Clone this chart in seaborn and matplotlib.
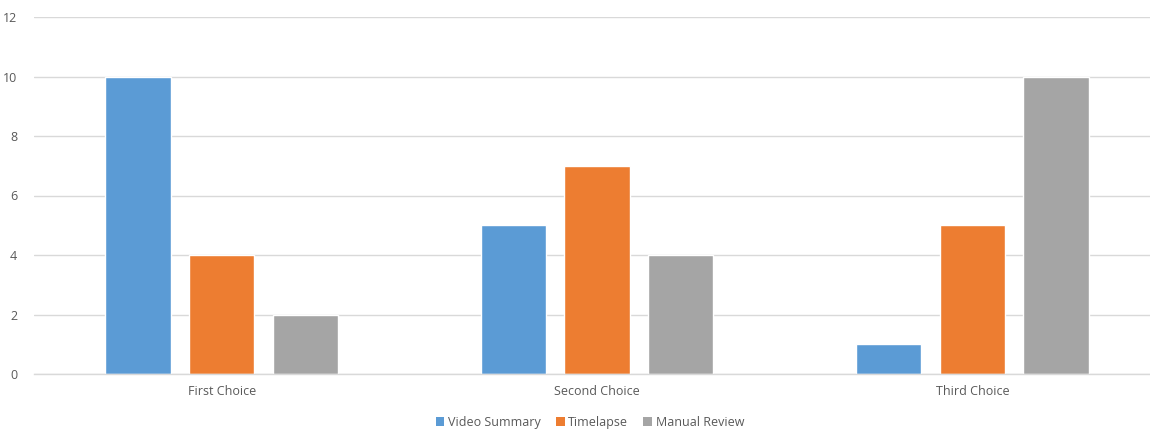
import matplotlib
matplotlib.use("Agg")
import matplotlib.pyplot as plt
from matplotlib.patches import Patch
import seaborn as sns
import pandas as pd

categories = ["First Choice", "Second Choice", "Third Choice"]
series = ["Video Summary", "Timelapse", "Manual Review"]
video_summary = [10, 5, 1]
timelapse = [4, 7, 5]
manual_review = [2, 4, 10]
colors = ["#5B9BD5", "#ED7D31", "#A5A5A5"]
yticks = [0, 2, 4, 6, 8, 10, 12]

df = pd.DataFrame({
    "category": categories * 3,
    "series": [s for s in series for _ in categories],
    "value": video_summary + timelapse + manual_review,
})

sns.set_theme(style="white")
plt.rcParams["font.family"] = ["Open Sans", "DejaVu Sans"]
text_color = "#595959"

fig = plt.figure(figsize=(11.5, 4.3), dpi=100)
ax = fig.add_axes([34 / 1150, 56 / 430, 1126 / 1150, 357 / 430])

sns.barplot(data=df, x="category", y="value", hue="series", order=categories,
            hue_order=series, palette=colors, width=0.668, gap=0.22,
            saturation=1, legend=False, ax=ax)

ax.set_xlim(-0.5, 2.5)
ax.set_ylim(0, 12)
ax.set_yticks(yticks)
ax.set_yticklabels([str(t) for t in yticks])
ax.yaxis.grid(True, color="#D9D9D9", linewidth=1)
ax.set_axisbelow(True)
for side in ["top", "right", "left"]:
    ax.spines[side].set_visible(False)
ax.spines["bottom"].set_color("#D9D9D9")
ax.spines["bottom"].set_linewidth(1)
ax.set_xlabel("")
ax.set_ylabel("")
ax.tick_params(axis="both", length=0, labelsize=9, colors=text_color)
ax.tick_params(axis="y", pad=12)
ax.tick_params(axis="x", pad=8)

handles = [Patch(facecolor=c, edgecolor="none") for c in colors]
fig.legend(handles, series, loc="center", bbox_to_anchor=(0.513, 0.018),
           ncol=3, frameon=False, fontsize=9, handlelength=0.7,
           handleheight=0.7, handletextpad=0.3, columnspacing=1.2,
           labelcolor=text_color)

fig.savefig("out.png", dpi=100, facecolor="white")
